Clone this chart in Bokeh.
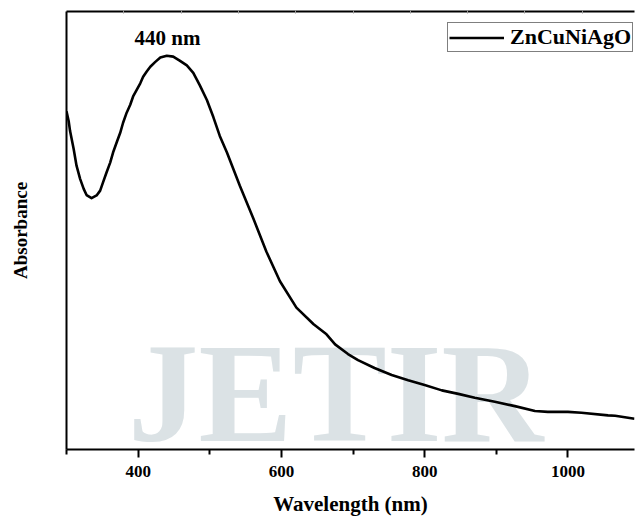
from bokeh.plotting import figure
from bokeh.models import (Range1d, LinearAxis, FixedTicker, Legend, LegendItem, Label,
                          CustomJSTickFormatter)
from bokeh.embed import file_html
from bokeh.resources import INLINE

# ---- data (arbitrary absorbance units) ----
wavelength = [300, 303, 305, 310, 314, 319, 324, 328, 335, 342, 347, 351, 356, 361,
              365, 370, 375, 379, 384, 389, 393, 398, 403, 407, 412, 417, 424, 431,
              440, 449, 458, 468, 477, 486, 496, 505, 514, 524, 542, 561, 579, 598,
              621, 645, 663, 675, 693, 707, 730, 754, 777, 800, 824, 847, 870, 898,
              926, 954, 972, 1000, 1019, 1056, 1066, 1093]
absorbance = [0.772, 0.750, 0.727, 0.686, 0.648, 0.618, 0.595, 0.581, 0.574, 0.580,
              0.591, 0.610, 0.633, 0.655, 0.678, 0.701, 0.723, 0.746, 0.769, 0.787,
              0.806, 0.821, 0.836, 0.851, 0.863, 0.874, 0.885, 0.895, 0.899, 0.897,
              0.888, 0.877, 0.860, 0.832, 0.798, 0.759, 0.716, 0.678, 0.602, 0.527,
              0.452, 0.384, 0.324, 0.286, 0.263, 0.240, 0.218, 0.204, 0.186, 0.170,
              0.158, 0.147, 0.135, 0.127, 0.118, 0.109, 0.099, 0.088, 0.086, 0.086,
              0.084, 0.078, 0.077, 0.070]
series_name = "ZnCuNiAgO"
peak_label = "440 nm"
x_title = "Wavelength (nm)"
y_title = "Absorbance"
x_major_ticks = [400, 600, 800, 1000]
x_minor_ticks = [300, 500, 700, 900, 1100]
top_ticks = [380, 460, 540, 620, 700, 780, 860, 940, 1020, 1100]

FONT = "Liberation Serif"

p = figure(width=635, height=518, output_backend="svg", toolbar_location=None,
           x_range=Range1d(300, 1093), y_range=Range1d(0, 1),
           min_border_left=66, min_border_right=1, min_border_top=11, min_border_bottom=65,
           background_fill_color="white", border_fill_color="white")
p.outline_line_color = None
p.grid.visible = False

# watermark
p.text(x=[386], y=[0.128], text=["JETIR"], text_color="#dbe2e5",
       text_font=FONT, text_font_style="bold", text_font_size="141px",
       text_align="left", text_baseline="middle")

line = p.line(wavelength, absorbance, line_color="black", line_width=2.6,
              line_join="round")

# bottom axis
xa = p.xaxis[0]
xa.ticker = FixedTicker(ticks=x_major_ticks, minor_ticks=x_minor_ticks)
xa.axis_line_width = 2
xa.major_tick_line_width = 2
xa.minor_tick_line_width = 2
xa.major_tick_in = 0
xa.major_tick_out = 8
xa.minor_tick_in = 0
xa.minor_tick_out = 5
xa.major_label_text_font = FONT
xa.major_label_text_font_style = "bold"
xa.major_label_text_font_size = "17px"
xa.major_label_text_color = "black"
xa.major_label_standoff = 8
xa.axis_label = x_title
xa.axis_label_text_font = FONT
xa.axis_label_text_font_style = "bold"
xa.axis_label_text_font_size = "21px"
xa.axis_label_text_color = "black"
xa.axis_label_standoff = 12

# left axis (line only)
ya = p.yaxis[0]
ya.ticker = FixedTicker(ticks=[])
ya.axis_line_width = 2
ya.major_tick_out = 0
ya.major_tick_in = 0
ya.minor_tick_out = 0
ya.minor_tick_in = 0
ya.axis_label = y_title
ya.axis_label_text_font = FONT
ya.axis_label_text_font_style = "bold"
ya.axis_label_text_font_size = "19px"
ya.axis_label_text_color = "black"
ya.axis_label_standoff = 36

# top axis (frame line with tiny ticks, no labels)
ta = LinearAxis(ticker=FixedTicker(ticks=top_ticks, minor_ticks=[]),
                formatter=CustomJSTickFormatter(code="return ''"))
ta.axis_line_width = 2
ta.major_tick_in = 2
ta.major_tick_out = 1
ta.major_tick_line_color = "#999999"
ta.major_tick_line_width = 1
ta.major_label_standoff = 0
ta.major_label_text_font_size = "1px"
p.add_layout(ta, "above")

# peak annotation
p.add_layout(Label(x=441, y=0.939, text=peak_label, text_font=FONT,
                   text_font_style="bold", text_font_size="21px", text_color="black",
                   text_align="center", text_baseline="middle"))

legend = Legend(items=[LegendItem(label=series_name, renderers=[line])],
                location=(381, 397), orientation="vertical")
legend.label_text_font = FONT
legend.label_text_font_style = "bold"
legend.label_text_font_size = "22px"
legend.label_text_color = "black"
legend.glyph_width = 55
legend.glyph_height = 17
legend.label_height = 17
legend.label_standoff = 6
legend.padding = 1
legend.margin = 0
legend.border_line_color = "black"
legend.border_line_width = 1
legend.background_fill_color = "white"
legend.background_fill_alpha = 1
p.add_layout(legend, "center")

open("out.html", "w").write(file_html(p, INLINE))
